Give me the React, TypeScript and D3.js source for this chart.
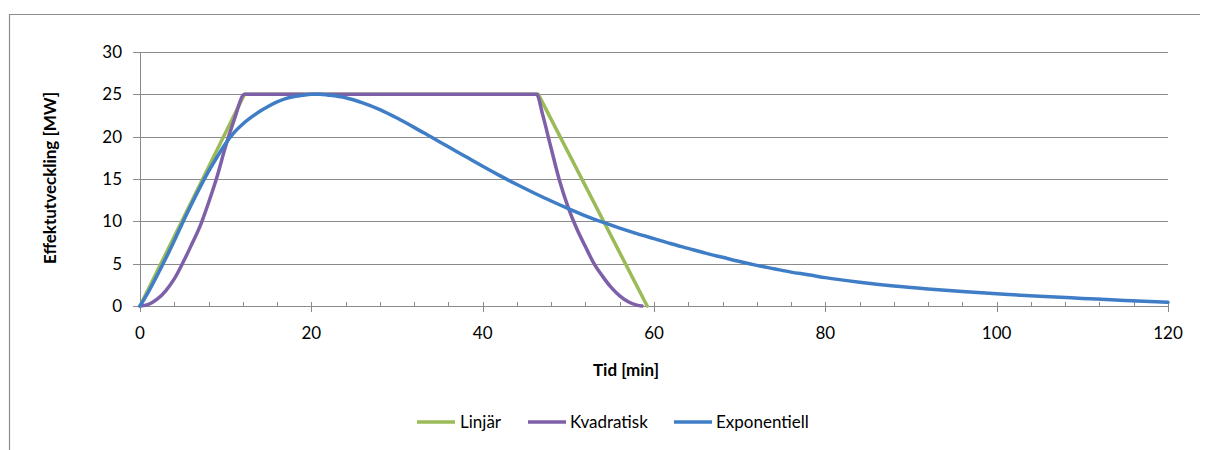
import React from "react";
import * as d3 from "d3";

// Power ramp profiles, time in minutes vs. output in MW
const linjarTime = [0, 12.2, 46.5, 59.2];
const linjarValue = [0, 25, 25, 0];

const kvadratiskTime = [0, 1, 2, 3, 4, 5, 6, 7, 8, 9, 10, 11, 12.2, 46.3, 47, 48, 49, 50, 51, 52, 53, 54, 55, 56, 57, 58, 58.6];
const kvadratiskValue = [0, 0.2, 0.8, 1.8, 3.2, 5.1, 7.2, 9.4, 12.2, 15.3, 18.9, 22.0, 25, 25, 22.6, 18.6, 14.7, 11.6, 9.1, 7.0, 5.0, 3.5, 2.2, 1.2, 0.5, 0.1, 0];

const exponentiellTime = [0, 1, 2, 3, 4, 5, 6, 7, 8, 9, 10, 11, 12, 13, 14, 15, 16, 17, 18, 19, 20, 21, 22, 24, 26, 28, 30, 32, 34, 36, 38, 40, 42, 44, 46, 48, 50, 52, 54, 56, 58, 60, 62, 64, 66, 68, 70, 72, 74, 76, 78, 80, 84, 88, 92, 96, 100, 105, 110, 115, 120];
const exponentiellValue = [0, 1.7, 3.6, 5.6, 7.7, 9.9, 12.0, 14.0, 15.9, 17.6, 19.2, 20.5, 21.5, 22.3, 23.0, 23.6, 24.1, 24.5, 24.75, 24.9, 25.0, 25.0, 24.9, 24.6, 24.0, 23.2, 22.2, 21.1, 19.95, 18.8, 17.65, 16.5, 15.4, 14.35, 13.35, 12.4, 11.5, 10.65, 9.9, 9.2, 8.55, 7.95, 7.35, 6.8, 6.25, 5.75, 5.25, 4.8, 4.4, 4.0, 3.7, 3.35, 2.8, 2.35, 2.0, 1.7, 1.45, 1.15, 0.9, 0.65, 0.45];

const xTicks = [0, 20, 40, 60, 80, 100, 120];
const xMinorTicks = d3.range(0, 121, 4);
const yTicks = [0, 5, 10, 15, 20, 25, 30];

const seriesNames = ["Linjär", "Kvadratisk", "Exponentiell"];
const seriesColors = ["#9BBB59", "#7D60A8", "#3F7EC6"];

const FONT = "Lato, 'Open Sans', sans-serif";
const GRID = "#8a8a8a";

export default function App() {
  const W = 1205;
  const H = 450;
  const x = d3.scaleLinear().domain([0, 120]).range([140, 1168]);
  const y = d3.scaleLinear().domain([0, 30]).range([306, 52]);

  const straight = d3
    .line<[number, number]>()
    .x((d) => x(d[0]))
    .y((d) => y(d[1]));
  const smooth = d3
    .line<[number, number]>()
    .x((d) => x(d[0]))
    .y((d) => y(d[1]))
    .curve(d3.curveMonotoneX);

  const zip = (t: number[], v: number[]) => t.map((ti, i) => [ti, v[i]] as [number, number]);

  const paths = [
    straight(zip(linjarTime, linjarValue)),
    smooth(zip(kvadratiskTime, kvadratiskValue)),
    smooth(zip(exponentiellTime, exponentiellValue)),
  ];

  const y0 = y(0);
  const legendItems = [
    { lx: 417, tx: 460 },
    { lx: 528, tx: 570 },
    { lx: 674, tx: 716 },
  ];

  return (
    <svg
      width={W}
      height={H}
      style={{ position: "absolute", left: 0, top: 0, background: "#fff" }}
      fontFamily={FONT}
    >
      <rect x={0} y={0} width={W} height={H} fill="#fff" />
      {/* chart frame */}
      <line x1={9} x2={1200} y1={14.5} y2={14.5} stroke="#8c8c8c" strokeWidth={1.2} />
      <line x1={9.5} x2={9.5} y1={14} y2={H} stroke="#8c8c8c" strokeWidth={1.2} />

      {/* horizontal gridlines and y ticks */}
      {yTicks.map((t) => (
        <g key={t}>
          <line x1={133} x2={x(120)} y1={Math.round(y(t)) + 0.5} y2={Math.round(y(t)) + 0.5} stroke={GRID} strokeWidth={1} />
          <text x={122} y={y(t)} dy="0.35em" textAnchor="end" fontSize={17} fill="#000">
            {t}
          </text>
        </g>
      ))}

      {/* y axis line */}
      <line x1={140.5} x2={140.5} y1={y(30)} y2={y0 + 0.5} stroke={GRID} strokeWidth={1} />

      {/* x axis ticks */}
      {xMinorTicks.map((t) => (
        <line key={"m" + t} x1={Math.round(x(t)) + 0.5} x2={Math.round(x(t)) + 0.5} y1={y0 - 4} y2={y0} stroke={GRID} strokeWidth={1} />
      ))}
      {xTicks.map((t) => (
        <g key={t}>
          <line x1={Math.round(x(t)) + 0.5} x2={Math.round(x(t)) + 0.5} y1={y0 - 4} y2={y0 + 6} stroke={GRID} strokeWidth={1} />
          <text x={x(t)} y={333} dy="0.35em" textAnchor="middle" fontSize={17} fill="#000">
            {t}
          </text>
        </g>
      ))}

      {/* series */}
      {paths.map((p, i) => (
        <path key={i} d={p || ""} fill="none" stroke={seriesColors[i]} strokeWidth={3.5} strokeLinejoin="round" strokeLinecap="round" />
      ))}

      {/* axis titles */}
      <text x={626} y={370} dy="0.35em" textAnchor="middle" fontSize={17} fontWeight="bold" fill="#000">
        Tid [min]
      </text>
      <text
        transform={`translate(50,178) rotate(-90)`}
        dy="0.35em"
        textAnchor="middle"
        fontSize={17}
        fontWeight="bold"
        fill="#000"
      >
        Effektutveckling [MW]
      </text>

      {/* legend */}
      {seriesNames.map((name, i) => (
        <g key={name}>
          <line x1={legendItems[i].lx} x2={legendItems[i].lx + 38} y1={422} y2={422} stroke={seriesColors[i]} strokeWidth={3.5} />
          <text x={legendItems[i].tx} y={422} dy="0.35em" fontSize={17} fill="#000">
            {name}
          </text>
        </g>
      ))}
    </svg>
  );
}
